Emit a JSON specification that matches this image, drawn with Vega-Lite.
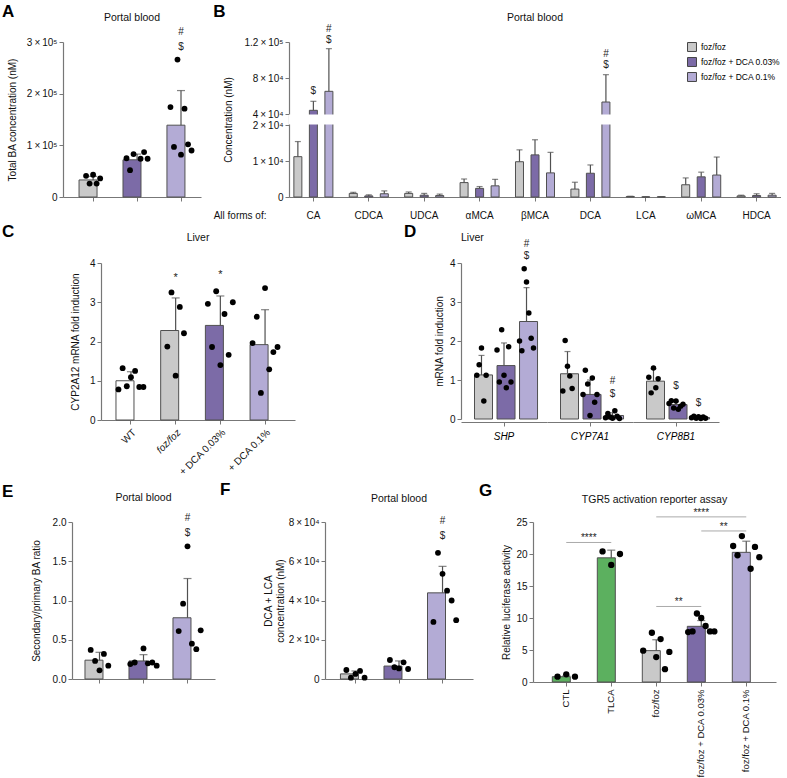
{
"$schema": "https://vega.github.io/schema/vega-lite/v6.json",
"padding": {"left": 2, "top": 3, "right": 0, "bottom": 0},
"background": "white",
"config": {
  "font": "Liberation Sans",
  "view": {"stroke": null},
  "axis": {"grid": false, "domainColor": "#777777", "tickColor": "#777777", "domainWidth": 1.2, "tickSize": 4, "labelFontSize": 10, "labelColor": "#111111", "titleFontSize": 10, "titleFontWeight": "normal", "titleColor": "#111111", "labelPadding": 2, "labelOverlap": false},
  "axisY": {"labelOverlap": false, "labelFlush": false},
  "title": {"fontSize": 10.5, "fontWeight": "normal", "color": "#111111", "frame": "group"},
  "header": {"labelFontSize": 10}
},
"datasets": {
  "A_bar": [
    {"group": "foz/foz", "mean": 33000, "hi": 40000},
    {"group": "foz/foz + DCA 0.03%", "mean": 72000, "hi": 83000},
    {"group": "foz/foz + DCA 0.1%", "mean": 139000, "hi": 206000}],
  "A_dot": [
    {"group": "foz/foz", "rep": 2, "value": 41000}, {"group": "foz/foz", "rep": 3, "value": 26000}, {"group": "foz/foz", "rep": 4, "value": 43000}, {"group": "foz/foz", "rep": 5, "value": 26000}, {"group": "foz/foz", "rep": 6, "value": 36000},
    {"group": "foz/foz + DCA 0.03%", "rep": 1, "value": 75000}, {"group": "foz/foz + DCA 0.03%", "rep": 2, "value": 52000}, {"group": "foz/foz + DCA 0.03%", "rep": 3, "value": 83000}, {"group": "foz/foz + DCA 0.03%", "rep": 5, "value": 74000}, {"group": "foz/foz + DCA 0.03%", "rep": 6, "value": 87000}, {"group": "foz/foz + DCA 0.03%", "rep": 7, "value": 74000},
    {"group": "foz/foz + DCA 0.1%", "rep": 1, "value": 174000}, {"group": "foz/foz + DCA 0.1%", "rep": 2, "value": 97000}, {"group": "foz/foz + DCA 0.1%", "rep": 3, "value": 266000}, {"group": "foz/foz + DCA 0.1%", "rep": 4, "value": 82000}, {"group": "foz/foz + DCA 0.1%", "rep": 5, "value": 171000}, {"group": "foz/foz + DCA 0.1%", "rep": 6, "value": 102000}, {"group": "foz/foz + DCA 0.1%", "rep": 7, "value": 90000}],
  "A_sig": [
    {"group": "foz/foz + DCA 0.1%", "label": "$", "y": 290000},
    {"group": "foz/foz + DCA 0.1%", "label": "#", "y": 320000}],
  "B_bar": [
    {"acid": "CA", "group": "foz/foz", "mean": 11200, "hi": 15400},
    {"acid": "CA", "group": "foz/foz + DCA 0.03%", "mean": 44100, "hi": 54100},
    {"acid": "CA", "group": "foz/foz + DCA 0.1%", "mean": 65200, "hi": 112600},
    {"acid": "CDCA", "group": "foz/foz", "mean": 1000, "hi": 1300},
    {"acid": "CDCA", "group": "foz/foz + DCA 0.03%", "mean": 300, "hi": 600},
    {"acid": "CDCA", "group": "foz/foz + DCA 0.1%", "mean": 900, "hi": 1700},
    {"acid": "UDCA", "group": "foz/foz", "mean": 1000, "hi": 1400},
    {"acid": "UDCA", "group": "foz/foz + DCA 0.03%", "mean": 500, "hi": 1000},
    {"acid": "UDCA", "group": "foz/foz + DCA 0.1%", "mean": 400, "hi": 800},
    {"acid": "αMCA", "group": "foz/foz", "mean": 4000, "hi": 5000},
    {"acid": "αMCA", "group": "foz/foz + DCA 0.03%", "mean": 2400, "hi": 2900},
    {"acid": "αMCA", "group": "foz/foz + DCA 0.1%", "mean": 3100, "hi": 4900},
    {"acid": "βMCA", "group": "foz/foz", "mean": 9800, "hi": 13100},
    {"acid": "βMCA", "group": "foz/foz + DCA 0.03%", "mean": 11700, "hi": 15900},
    {"acid": "βMCA", "group": "foz/foz + DCA 0.1%", "mean": 6700, "hi": 12400},
    {"acid": "DCA", "group": "foz/foz", "mean": 2200, "hi": 4100},
    {"acid": "DCA", "group": "foz/foz + DCA 0.03%", "mean": 6600, "hi": 8900},
    {"acid": "DCA", "group": "foz/foz + DCA 0.1%", "mean": 53300, "hi": 83700},
    {"acid": "LCA", "group": "foz/foz", "mean": 150, "hi": 200},
    {"acid": "LCA", "group": "foz/foz + DCA 0.03%", "mean": 30, "hi": 50},
    {"acid": "LCA", "group": "foz/foz + DCA 0.1%", "mean": 60, "hi": 90},
    {"acid": "ωMCA", "group": "foz/foz", "mean": 3400, "hi": 5300},
    {"acid": "ωMCA", "group": "foz/foz + DCA 0.03%", "mean": 5600, "hi": 6900},
    {"acid": "ωMCA", "group": "foz/foz + DCA 0.1%", "mean": 6100, "hi": 11100},
    {"acid": "HDCA", "group": "foz/foz", "mean": 300, "hi": 500},
    {"acid": "HDCA", "group": "foz/foz + DCA 0.03%", "mean": 400, "hi": 900},
    {"acid": "HDCA", "group": "foz/foz + DCA 0.1%", "mean": 500, "hi": 1000}],
  "B_sig": [
    {"acid": "CA", "group": "foz/foz + DCA 0.03%", "label": "$", "y": 65200},
    {"acid": "CA", "group": "foz/foz + DCA 0.1%", "label": "$", "y": 122000},
    {"acid": "CA", "group": "foz/foz + DCA 0.1%", "label": "#", "y": 135000},
    {"acid": "DCA", "group": "foz/foz + DCA 0.1%", "label": "$", "y": 94100},
    {"acid": "DCA", "group": "foz/foz + DCA 0.1%", "label": "#", "y": 107000}],
  "C_bar": [
    {"group": "WT", "mean": 1.0, "hi": 1.23},
    {"group": "foz/foz", "mean": 2.28, "hi": 3.11},
    {"group": "+ DCA 0.03%", "mean": 2.41, "hi": 3.16},
    {"group": "+ DCA 0.1%", "mean": 1.92, "hi": 2.81}],
  "C_dot": [
    {"group": "WT", "rep": 1, "value": 0.78}, {"group": "WT", "rep": 2, "value": 1.32}, {"group": "WT", "rep": 3, "value": 0.86}, {"group": "WT", "rep": 4, "value": 1.09}, {"group": "WT", "rep": 5, "value": 1.25}, {"group": "WT", "rep": 6, "value": 0.84}, {"group": "WT", "rep": 7, "value": 0.84},
    {"group": "foz/foz", "rep": 2, "value": 1.87}, {"group": "foz/foz", "rep": 3, "value": 3.25}, {"group": "foz/foz", "rep": 4, "value": 1.13}, {"group": "foz/foz", "rep": 5, "value": 2.88}, {"group": "foz/foz", "rep": 6, "value": 2.21},
    {"group": "+ DCA 0.03%", "rep": 1, "value": 2.96}, {"group": "+ DCA 0.03%", "rep": 2, "value": 1.86}, {"group": "+ DCA 0.03%", "rep": 3, "value": 3.28}, {"group": "+ DCA 0.03%", "rep": 4, "value": 1.40}, {"group": "+ DCA 0.03%", "rep": 5, "value": 2.70}, {"group": "+ DCA 0.03%", "rep": 6, "value": 1.66}, {"group": "+ DCA 0.03%", "rep": 7, "value": 3.0},
    {"group": "+ DCA 0.1%", "rep": 1, "value": 1.96}, {"group": "+ DCA 0.1%", "rep": 2, "value": 2.63}, {"group": "+ DCA 0.1%", "rep": 3, "value": 0.69}, {"group": "+ DCA 0.1%", "rep": 4, "value": 3.36}, {"group": "+ DCA 0.1%", "rep": 5, "value": 1.29}, {"group": "+ DCA 0.1%", "rep": 6, "value": 1.73}, {"group": "+ DCA 0.1%", "rep": 7, "value": 1.86}],
  "C_sig": [
    {"group": "foz/foz", "label": "*", "y": 3.62},
    {"group": "+ DCA 0.03%", "label": "*", "y": 3.69}],
  "D_all": [
    {"gene": "SHP", "group": "foz/foz", "kind": "bar", "mean": 1.13, "hi": 1.63},
    {"gene": "SHP", "group": "foz/foz + DCA 0.03%", "kind": "bar", "mean": 1.37, "hi": 1.95},
    {"gene": "SHP", "group": "foz/foz + DCA 0.1%", "kind": "bar", "mean": 2.50, "hi": 3.37},
    {"gene": "CYP7A1", "group": "foz/foz", "kind": "bar", "mean": 1.16, "hi": 1.73},
    {"gene": "CYP7A1", "group": "foz/foz + DCA 0.03%", "kind": "bar", "mean": 0.63, "hi": 1.0},
    {"gene": "CYP7A1", "group": "foz/foz + DCA 0.1%", "kind": "bar", "mean": 0.09, "hi": 0.16},
    {"gene": "CYP8B1", "group": "foz/foz", "kind": "bar", "mean": 0.97, "hi": 1.29},
    {"gene": "CYP8B1", "group": "foz/foz + DCA 0.03%", "kind": "bar", "mean": 0.37, "hi": 0.45},
    {"gene": "CYP8B1", "group": "foz/foz + DCA 0.1%", "kind": "bar", "mean": 0.04, "hi": 0.06},
    {"gene": "SHP", "group": "foz/foz", "kind": "dot", "rep": 2, "value": 1.12}, {"gene": "SHP", "group": "foz/foz", "kind": "dot", "rep": 3, "value": 1.39}, {"gene": "SHP", "group": "foz/foz", "kind": "dot", "rep": 4, "value": 1.82}, {"gene": "SHP", "group": "foz/foz", "kind": "dot", "rep": 5, "value": 0.46}, {"gene": "SHP", "group": "foz/foz", "kind": "dot", "rep": 6, "value": 1.12},
    {"gene": "SHP", "group": "foz/foz + DCA 0.03%", "kind": "dot", "rep": 1, "value": 1.77}, {"gene": "SHP", "group": "foz/foz + DCA 0.03%", "kind": "dot", "rep": 2, "value": 0.95}, {"gene": "SHP", "group": "foz/foz + DCA 0.03%", "kind": "dot", "rep": 3, "value": 2.29}, {"gene": "SHP", "group": "foz/foz + DCA 0.03%", "kind": "dot", "rep": 4, "value": 1.12}, {"gene": "SHP", "group": "foz/foz + DCA 0.03%", "kind": "dot", "rep": 5, "value": 0.80}, {"gene": "SHP", "group": "foz/foz + DCA 0.03%", "kind": "dot", "rep": 6, "value": 1.85}, {"gene": "SHP", "group": "foz/foz + DCA 0.03%", "kind": "dot", "rep": 7, "value": 0.95},
    {"gene": "SHP", "group": "foz/foz + DCA 0.1%", "kind": "dot", "rep": 1, "value": 2.0}, {"gene": "SHP", "group": "foz/foz + DCA 0.1%", "kind": "dot", "rep": 2, "value": 1.75}, {"gene": "SHP", "group": "foz/foz + DCA 0.1%", "kind": "dot", "rep": 3, "value": 3.85}, {"gene": "SHP", "group": "foz/foz + DCA 0.1%", "kind": "dot", "rep": 4, "value": 3.51}, {"gene": "SHP", "group": "foz/foz + DCA 0.1%", "kind": "dot", "rep": 5, "value": 2.72}, {"gene": "SHP", "group": "foz/foz + DCA 0.1%", "kind": "dot", "rep": 6, "value": 2.07}, {"gene": "SHP", "group": "foz/foz + DCA 0.1%", "kind": "dot", "rep": 7, "value": 1.82},
    {"gene": "CYP7A1", "group": "foz/foz", "kind": "dot", "rep": 2, "value": 0.72}, {"gene": "CYP7A1", "group": "foz/foz", "kind": "dot", "rep": 3, "value": 2.01}, {"gene": "CYP7A1", "group": "foz/foz", "kind": "dot", "rep": 4, "value": 1.35}, {"gene": "CYP7A1", "group": "foz/foz", "kind": "dot", "rep": 5, "value": 1.10}, {"gene": "CYP7A1", "group": "foz/foz", "kind": "dot", "rep": 6, "value": 0.78},
    {"gene": "CYP7A1", "group": "foz/foz + DCA 0.03%", "kind": "dot", "rep": 1, "value": 0.63}, {"gene": "CYP7A1", "group": "foz/foz + DCA 0.03%", "kind": "dot", "rep": 2, "value": 1.25}, {"gene": "CYP7A1", "group": "foz/foz + DCA 0.03%", "kind": "dot", "rep": 3, "value": 0.90}, {"gene": "CYP7A1", "group": "foz/foz + DCA 0.03%", "kind": "dot", "rep": 4, "value": 0.09}, {"gene": "CYP7A1", "group": "foz/foz + DCA 0.03%", "kind": "dot", "rep": 5, "value": 1.05}, {"gene": "CYP7A1", "group": "foz/foz + DCA 0.03%", "kind": "dot", "rep": 6, "value": 0.43}, {"gene": "CYP7A1", "group": "foz/foz + DCA 0.03%", "kind": "dot", "rep": 7, "value": 0.63},
    {"gene": "CYP7A1", "group": "foz/foz + DCA 0.1%", "kind": "dot", "rep": 1, "value": 0.03}, {"gene": "CYP7A1", "group": "foz/foz + DCA 0.1%", "kind": "dot", "rep": 2, "value": 0.14}, {"gene": "CYP7A1", "group": "foz/foz + DCA 0.1%", "kind": "dot", "rep": 3, "value": 0.05}, {"gene": "CYP7A1", "group": "foz/foz + DCA 0.1%", "kind": "dot", "rep": 4, "value": 0.02}, {"gene": "CYP7A1", "group": "foz/foz + DCA 0.1%", "kind": "dot", "rep": 5, "value": 0.21}, {"gene": "CYP7A1", "group": "foz/foz + DCA 0.1%", "kind": "dot", "rep": 6, "value": 0.07}, {"gene": "CYP7A1", "group": "foz/foz + DCA 0.1%", "kind": "dot", "rep": 7, "value": 0.01},
    {"gene": "CYP8B1", "group": "foz/foz", "kind": "dot", "rep": 2, "value": 1.07}, {"gene": "CYP8B1", "group": "foz/foz", "kind": "dot", "rep": 3, "value": 0.67}, {"gene": "CYP8B1", "group": "foz/foz", "kind": "dot", "rep": 4, "value": 1.31}, {"gene": "CYP8B1", "group": "foz/foz", "kind": "dot", "rep": 5, "value": 0.80}, {"gene": "CYP8B1", "group": "foz/foz", "kind": "dot", "rep": 6, "value": 1.03},
    {"gene": "CYP8B1", "group": "foz/foz + DCA 0.03%", "kind": "dot", "rep": 1, "value": 0.40}, {"gene": "CYP8B1", "group": "foz/foz + DCA 0.03%", "kind": "dot", "rep": 2, "value": 0.47}, {"gene": "CYP8B1", "group": "foz/foz + DCA 0.03%", "kind": "dot", "rep": 3, "value": 0.28}, {"gene": "CYP8B1", "group": "foz/foz + DCA 0.03%", "kind": "dot", "rep": 4, "value": 0.46}, {"gene": "CYP8B1", "group": "foz/foz + DCA 0.03%", "kind": "dot", "rep": 5, "value": 0.25}, {"gene": "CYP8B1", "group": "foz/foz + DCA 0.03%", "kind": "dot", "rep": 6, "value": 0.33}, {"gene": "CYP8B1", "group": "foz/foz + DCA 0.03%", "kind": "dot", "rep": 7, "value": 0.38},
    {"gene": "CYP8B1", "group": "foz/foz + DCA 0.1%", "kind": "dot", "rep": 1, "value": 0.03}, {"gene": "CYP8B1", "group": "foz/foz + DCA 0.1%", "kind": "dot", "rep": 2, "value": 0.07}, {"gene": "CYP8B1", "group": "foz/foz + DCA 0.1%", "kind": "dot", "rep": 3, "value": 0.02}, {"gene": "CYP8B1", "group": "foz/foz + DCA 0.1%", "kind": "dot", "rep": 4, "value": 0.06}, {"gene": "CYP8B1", "group": "foz/foz + DCA 0.1%", "kind": "dot", "rep": 5, "value": 0.01}, {"gene": "CYP8B1", "group": "foz/foz + DCA 0.1%", "kind": "dot", "rep": 6, "value": 0.05}, {"gene": "CYP8B1", "group": "foz/foz + DCA 0.1%", "kind": "dot", "rep": 7, "value": 0.02},
    {"gene": "SHP", "group": "foz/foz + DCA 0.1%", "kind": "sig", "label": "$", "y": 4.17},
    {"gene": "SHP", "group": "foz/foz + DCA 0.1%", "kind": "sig", "label": "#", "y": 4.49},
    {"gene": "CYP7A1", "group": "foz/foz + DCA 0.1%", "kind": "sig", "label": "$", "y": 0.63},
    {"gene": "CYP7A1", "group": "foz/foz + DCA 0.1%", "kind": "sig", "label": "#", "y": 0.97},
    {"gene": "CYP8B1", "group": "foz/foz + DCA 0.03%", "kind": "sig", "label": "$", "y": 0.84},
    {"gene": "CYP8B1", "group": "foz/foz + DCA 0.1%", "kind": "sig", "label": "$", "y": 0.41}],
  "E_bar": [
    {"group": "foz/foz", "mean": 0.24, "hi": 0.34},
    {"group": "foz/foz + DCA 0.03%", "mean": 0.23, "hi": 0.31},
    {"group": "foz/foz + DCA 0.1%", "mean": 0.78, "hi": 1.28}],
  "E_dot": [
    {"group": "foz/foz", "rep": 2, "value": 0.37}, {"group": "foz/foz", "rep": 3, "value": 0.23}, {"group": "foz/foz", "rep": 4, "value": 0.11}, {"group": "foz/foz", "rep": 5, "value": 0.32}, {"group": "foz/foz", "rep": 6, "value": 0.17},
    {"group": "foz/foz + DCA 0.03%", "rep": 1, "value": 0.19}, {"group": "foz/foz + DCA 0.03%", "rep": 2, "value": 0.21}, {"group": "foz/foz + DCA 0.03%", "rep": 4, "value": 0.39}, {"group": "foz/foz + DCA 0.03%", "rep": 5, "value": 0.20}, {"group": "foz/foz + DCA 0.03%", "rep": 6, "value": 0.21}, {"group": "foz/foz + DCA 0.03%", "rep": 7, "value": 0.17},
    {"group": "foz/foz + DCA 0.1%", "rep": 2, "value": 0.61}, {"group": "foz/foz + DCA 0.1%", "rep": 3, "value": 0.96}, {"group": "foz/foz + DCA 0.1%", "rep": 4, "value": 1.69}, {"group": "foz/foz + DCA 0.1%", "rep": 5, "value": 0.45}, {"group": "foz/foz + DCA 0.1%", "rep": 6, "value": 0.38}, {"group": "foz/foz + DCA 0.1%", "rep": 7, "value": 0.62}],
  "E_sig": [
    {"group": "foz/foz + DCA 0.1%", "label": "$", "y": 1.86},
    {"group": "foz/foz + DCA 0.1%", "label": "#", "y": 2.05}],
  "F_bar": [
    {"group": "foz/foz", "mean": 2600, "hi": 4100},
    {"group": "foz/foz + DCA 0.03%", "mean": 6600, "hi": 9200},
    {"group": "foz/foz + DCA 0.1%", "mean": 43900, "hi": 57400}],
  "F_dot": [
    {"group": "foz/foz", "rep": 2, "value": 4600}, {"group": "foz/foz", "rep": 3, "value": 700}, {"group": "foz/foz", "rep": 4, "value": 2600}, {"group": "foz/foz", "rep": 5, "value": 4100}, {"group": "foz/foz", "rep": 6, "value": 700},
    {"group": "foz/foz + DCA 0.03%", "rep": 2, "value": 9700}, {"group": "foz/foz + DCA 0.03%", "rep": 3, "value": 6000}, {"group": "foz/foz + DCA 0.03%", "rep": 4, "value": 5400}, {"group": "foz/foz + DCA 0.03%", "rep": 5, "value": 8500}, {"group": "foz/foz + DCA 0.03%", "rep": 6, "value": 5100},
    {"group": "foz/foz + DCA 0.1%", "rep": 2, "value": 29100}, {"group": "foz/foz + DCA 0.1%", "rep": 3, "value": 64300}, {"group": "foz/foz + DCA 0.1%", "rep": 4, "value": 53600}, {"group": "foz/foz + DCA 0.1%", "rep": 5, "value": 45000}, {"group": "foz/foz + DCA 0.1%", "rep": 6, "value": 40000}, {"group": "foz/foz + DCA 0.1%", "rep": 7, "value": 30000}],
  "F_sig": [
    {"group": "foz/foz + DCA 0.1%", "label": "$", "y": 72700},
    {"group": "foz/foz + DCA 0.1%", "label": "#", "y": 80300}],
  "G_bar": [
    {"group": "CTL", "mean": 0.83, "hi": 0.95},
    {"group": "TLCA", "mean": 19.4, "hi": 20.6},
    {"group": "foz/foz", "mean": 4.9, "hi": 6.6},
    {"group": "foz/foz + DCA 0.03%", "mean": 8.7, "hi": 9.6},
    {"group": "foz/foz + DCA 0.1%", "mean": 20.26, "hi": 22.0}],
  "G_dot": [
    {"group": "CTL", "rep": 2, "value": 0.83}, {"group": "CTL", "rep": 4, "value": 1.2}, {"group": "CTL", "rep": 6, "value": 0.83},
    {"group": "TLCA", "rep": 2, "value": 20.4}, {"group": "TLCA", "rep": 4, "value": 18.3}, {"group": "TLCA", "rep": 6, "value": 20.0},
    {"group": "foz/foz", "rep": 1, "value": 4.9}, {"group": "foz/foz", "rep": 3, "value": 7.7}, {"group": "foz/foz", "rep": 4, "value": 3.9}, {"group": "foz/foz", "rep": 5, "value": 6.7}, {"group": "foz/foz", "rep": 6, "value": 2.0}, {"group": "foz/foz", "rep": 7, "value": 4.7},
    {"group": "foz/foz + DCA 0.03%", "rep": 1, "value": 7.8}, {"group": "foz/foz + DCA 0.03%", "rep": 2, "value": 7.9}, {"group": "foz/foz + DCA 0.03%", "rep": 3, "value": 10.7}, {"group": "foz/foz + DCA 0.03%", "rep": 4, "value": 10.0}, {"group": "foz/foz + DCA 0.03%", "rep": 5, "value": 8.75}, {"group": "foz/foz + DCA 0.03%", "rep": 6, "value": 7.9}, {"group": "foz/foz + DCA 0.03%", "rep": 7, "value": 7.9},
    {"group": "foz/foz + DCA 0.1%", "rep": 1, "value": 21.25}, {"group": "foz/foz + DCA 0.1%", "rep": 2, "value": 19.8}, {"group": "foz/foz + DCA 0.1%", "rep": 3, "value": 22.8}, {"group": "foz/foz + DCA 0.1%", "rep": 5, "value": 17.7}, {"group": "foz/foz + DCA 0.1%", "rep": 6, "value": 21.1}, {"group": "foz/foz + DCA 0.1%", "rep": 7, "value": 19.5}],
  "G_cmp": [
    {"g1": "CTL", "g2": "TLCA", "y": 21.8, "label": "****"},
    {"g1": "foz/foz", "g2": "foz/foz + DCA 0.03%", "y": 11.8, "label": "**"},
    {"g1": "foz/foz", "g2": "foz/foz + DCA 0.1%", "y": 25.8, "label": "****"},
    {"g1": "foz/foz + DCA 0.03%", "g2": "foz/foz + DCA 0.1%", "y": 23.6, "label": "**"}]
},
"resolve": {"scale": {"color": "independent", "xOffset": "independent"}, "legend": {"color": "independent"}},
"columns": 1,
"align": "none",
"spacing": 2,
"concat": [
 {
  "resolve": {"scale": {"color": "independent", "xOffset": "independent"}, "legend": {"color": "independent"}},
  "spacing": 12,
  "hconcat": [
   {
    "title": {"text": "A", "fontSize": 17, "fontWeight": "bold", "anchor": "start", "frame": "bounds", "offset": -8, "dx": 0, "color": "black"},
    "resolve": {"scale": {"color": "independent", "xOffset": "independent"}, "legend": {"color": "independent"}},
    "spacing": 0,
    "hconcat": [
     {"width": 5, "height": 155, "data": {"values": []}, "mark": {"type": "point", "opacity": 0}},
     {
      "title": {"text": "Portal blood", "offset": 3},
      "width": 138, "height": 155,
      "layer": [
       {"data": {"name": "A_bar"}, "mark": {"type": "bar", "stroke": "#505050", "strokeWidth": 1},
        "encoding": {
         "x": {"field": "group", "type": "nominal", "scale": {"domain": ["foz/foz", "foz/foz + DCA 0.03%", "foz/foz + DCA 0.1%"], "paddingInner": 0.36, "paddingOuter": 0.25, "align": 0.73}, "axis": {"labels": false, "title": null}},
         "y": {"field": "mean", "type": "quantitative", "scale": {"domain": [0, 300000], "nice": false}, "axis": {"values": [0, 100000, 200000, 300000], "tickCount": 12, "labelOverlap": false, "labelExpr": "datum.value == 0 ? '0' : (datum.value / 100000) + '\u2009×\u200910⁵'", "title": "Total BA concentration (nM)", "titlePadding": 12, "minExtent": 34, "maxExtent": 34}},
         "color": {"field": "group", "type": "nominal", "scale": {"domain": ["foz/foz", "foz/foz + DCA 0.03%", "foz/foz + DCA 0.1%"], "range": ["#c9c9c9", "#7c6ba7", "#b3abd5"]}, "legend": null}}},
       {"data": {"name": "A_bar"}, "mark": {"type": "rule", "color": "#505050", "strokeWidth": 1.2},
        "encoding": {
         "x": {"field": "group", "type": "nominal", "scale": {"domain": ["foz/foz", "foz/foz + DCA 0.03%", "foz/foz + DCA 0.1%"]}},
         "y": {"field": "mean", "type": "quantitative", "scale": {"domain": [0, 300000], "nice": false}}, "y2": {"field": "hi"}}},
       {"data": {"name": "A_bar"}, "mark": {"type": "tick", "color": "#505050", "size": 8, "thickness": 1.2},
        "encoding": {
         "x": {"field": "group", "type": "nominal", "scale": {"domain": ["foz/foz", "foz/foz + DCA 0.03%", "foz/foz + DCA 0.1%"]}},
         "y": {"field": "hi", "type": "quantitative", "scale": {"domain": [0, 300000], "nice": false}}}},
       {"data": {"name": "A_dot"}, "mark": {"type": "circle", "color": "black", "size": 34, "opacity": 1},
        "encoding": {
         "x": {"field": "group", "type": "nominal", "scale": {"domain": ["foz/foz", "foz/foz + DCA 0.03%", "foz/foz + DCA 0.1%"]}},
         "xOffset": {"field": "rep", "type": "ordinal", "scale": {"domain": [1, 2, 3, 4, 5, 6, 7], "paddingOuter": 1.2}},
         "y": {"field": "value", "type": "quantitative", "scale": {"domain": [0, 300000], "nice": false}}}},
       {"data": {"name": "A_sig"}, "mark": {"type": "text", "fontSize": 10, "color": "#222222"},
        "encoding": {
         "x": {"field": "group", "type": "nominal", "scale": {"domain": ["foz/foz", "foz/foz + DCA 0.03%", "foz/foz + DCA 0.1%"]}},
         "y": {"field": "y", "type": "quantitative", "scale": {"domain": [0, 300000], "nice": false}},
         "text": {"field": "label"}}}
      ]
     }
    ]
   },
   {
    "title": {"text": "B", "fontSize": 17, "fontWeight": "bold", "anchor": "start", "frame": "bounds", "offset": -8, "dx": 0, "color": "black"},
    "resolve": {"scale": {"color": "independent", "xOffset": "independent"}, "legend": {"color": "independent"}},
    "vconcat": [
     {
      "title": {"text": "Portal blood", "offset": 0},
      "width": 492, "height": 155,
      "layer": [
       {"data": {"name": "B_bar"}, "mark": {"type": "bar", "stroke": "#505050", "strokeWidth": 1, "size": 8},
        "encoding": {
         "x": {"field": "acid", "type": "nominal", "scale": {"domain": ["CA", "CDCA", "UDCA", "αMCA", "βMCA", "DCA", "LCA", "ωMCA", "HDCA"], "paddingInner": 0.16, "paddingOuter": 0.02}, "axis": {"title": "All forms of:", "labelAngle": 0, "labelPadding": 9, "titleX": -23, "titleY": 13, "titleAlign": "right", "titleBaseline": "top", "titleAngle": 0, "titleAnchor": null}},
         "xOffset": {"field": "group", "type": "nominal", "scale": {"domain": ["foz/foz", "foz/foz + DCA 0.03%", "foz/foz + DCA 0.1%"], "paddingInner": 0, "paddingOuter": 0}},
         "y": {"field": "mean", "type": "quantitative", "scale": {"domain": [0, 20000, 40000, 120000], "range": [155, 83, 72, 0], "nice": false, "zero": false}, "axis": {"values": [0, 10000, 20000, 40000, 80000, 120000], "tickCount": 12, "labelOverlap": false, "labelExpr": "datum.value == 0 ? '0' : datum.value >= 100000 ? '1.2\u2009×\u200910⁵' : (datum.value / 10000) + '\u2009×\u200910⁴'", "title": "Concentration (nM)", "titlePadding": 10, "minExtent": 46, "maxExtent": 46}},
         "color": {"field": "group", "type": "nominal", "scale": {"domain": ["foz/foz", "foz/foz + DCA 0.03%", "foz/foz + DCA 0.1%"], "range": ["#c9c9c9", "#7c6ba7", "#b3abd5"]}, "legend": {"title": null, "orient": "top-right", "offset": 0, "symbolType": "square", "symbolSize": 80, "symbolStrokeColor": "#444444", "symbolStrokeWidth": 1, "labelFontSize": 8.5, "rowPadding": 1}}}},
       {"data": {"name": "B_bar"}, "mark": {"type": "rule", "color": "#505050", "strokeWidth": 1.2},
        "encoding": {
         "x": {"field": "acid", "type": "nominal", "scale": {"domain": ["CA", "CDCA", "UDCA", "αMCA", "βMCA", "DCA", "LCA", "ωMCA", "HDCA"]}},
         "xOffset": {"field": "group", "type": "nominal", "scale": {"domain": ["foz/foz", "foz/foz + DCA 0.03%", "foz/foz + DCA 0.1%"]}},
         "y": {"field": "mean", "type": "quantitative", "scale": {"domain": [0, 20000, 40000, 120000], "range": [155, 83, 72, 0], "nice": false, "zero": false}}, "y2": {"field": "hi"}}},
       {"data": {"name": "B_bar"}, "mark": {"type": "tick", "color": "#505050", "size": 6, "thickness": 1.2},
        "encoding": {
         "x": {"field": "acid", "type": "nominal", "scale": {"domain": ["CA", "CDCA", "UDCA", "αMCA", "βMCA", "DCA", "LCA", "ωMCA", "HDCA"]}},
         "xOffset": {"field": "group", "type": "nominal", "scale": {"domain": ["foz/foz", "foz/foz + DCA 0.03%", "foz/foz + DCA 0.1%"]}},
         "y": {"field": "hi", "type": "quantitative", "scale": {"domain": [0, 20000, 40000, 120000], "range": [155, 83, 72, 0], "nice": false, "zero": false}}}},
       {"data": {"values": [{"band": "axis break"}]}, "mark": {"type": "rect", "fill": "white", "stroke": null},
        "encoding": {
         "y": {"datum": 20900, "type": "quantitative", "scale": {"domain": [0, 20000, 40000, 120000], "range": [155, 83, 72, 0], "nice": false, "zero": false}},
         "y2": {"datum": 39200}}},
       {"data": {"name": "B_sig"}, "mark": {"type": "text", "fontSize": 10, "color": "#222222"},
        "encoding": {
         "x": {"field": "acid", "type": "nominal", "scale": {"domain": ["CA", "CDCA", "UDCA", "αMCA", "βMCA", "DCA", "LCA", "ωMCA", "HDCA"]}},
         "xOffset": {"field": "group", "type": "nominal", "scale": {"domain": ["foz/foz", "foz/foz + DCA 0.03%", "foz/foz + DCA 0.1%"]}},
         "y": {"field": "y", "type": "quantitative", "scale": {"domain": [0, 20000, 40000, 120000], "range": [155, 83, 72, 0], "nice": false, "zero": false}},
         "text": {"field": "label"}}}
      ]
     }
    ]
   }
  ]
 },
 {
  "resolve": {"scale": {"color": "independent", "xOffset": "independent"}, "legend": {"color": "independent"}},
  "spacing": 109,
  "hconcat": [
   {
    "title": {"text": "C", "fontSize": 17, "fontWeight": "bold", "anchor": "start", "frame": "bounds", "offset": -8, "dx": 0, "color": "black"},
    "resolve": {"scale": {"color": "independent", "xOffset": "independent"}, "legend": {"color": "independent"}},
    "spacing": 0,
    "hconcat": [
     {"width": 68, "height": 157, "data": {"values": []}, "mark": {"type": "point", "opacity": 0}},
     {
      "title": {"text": "Liver", "offset": 15},
      "width": 194, "height": 157,
      "layer": [
       {"data": {"name": "C_bar"}, "mark": {"type": "bar", "stroke": "#505050", "strokeWidth": 1},
        "encoding": {
         "x": {"field": "group", "type": "nominal", "scale": {"domain": ["WT", "foz/foz", "+ DCA 0.03%", "+ DCA 0.1%"], "paddingInner": 0.33, "paddingOuter": 0.335}, "axis": {"title": null, "labelAngle": -45, "labelPadding": 3, "labelFontStyle": {"condition": {"test": "datum.value === 'foz/foz'", "value": "italic"}, "value": "normal"}}},
         "y": {"field": "mean", "type": "quantitative", "scale": {"domain": [0, 4], "nice": false}, "axis": {"values": [0, 1, 2, 3, 4], "format": "d", "tickCount": 12, "labelOverlap": false, "title": "CYP2A12 mRNA fold induction", "titlePadding": 7, "minExtent": 14, "maxExtent": 14}},
         "color": {"field": "group", "type": "nominal", "scale": {"domain": ["WT", "foz/foz", "+ DCA 0.03%", "+ DCA 0.1%"], "range": ["#ffffff", "#c9c9c9", "#7c6ba7", "#b3abd5"]}, "legend": null}}},
       {"data": {"name": "C_bar"}, "mark": {"type": "rule", "color": "#505050", "strokeWidth": 1.2},
        "encoding": {
         "x": {"field": "group", "type": "nominal", "scale": {"domain": ["WT", "foz/foz", "+ DCA 0.03%", "+ DCA 0.1%"]}},
         "y": {"field": "mean", "type": "quantitative", "scale": {"domain": [0, 4], "nice": false}}, "y2": {"field": "hi"}}},
       {"data": {"name": "C_bar"}, "mark": {"type": "tick", "color": "#505050", "size": 8, "thickness": 1.2},
        "encoding": {
         "x": {"field": "group", "type": "nominal", "scale": {"domain": ["WT", "foz/foz", "+ DCA 0.03%", "+ DCA 0.1%"]}},
         "y": {"field": "hi", "type": "quantitative", "scale": {"domain": [0, 4], "nice": false}}}},
       {"data": {"name": "C_dot"}, "mark": {"type": "circle", "color": "black", "size": 34, "opacity": 1},
        "encoding": {
         "x": {"field": "group", "type": "nominal", "scale": {"domain": ["WT", "foz/foz", "+ DCA 0.03%", "+ DCA 0.1%"]}},
         "xOffset": {"field": "rep", "type": "ordinal", "scale": {"domain": [1, 2, 3, 4, 5, 6, 7], "paddingOuter": 0.6}},
         "y": {"field": "value", "type": "quantitative", "scale": {"domain": [0, 4], "nice": false}}}},
       {"data": {"name": "C_sig"}, "mark": {"type": "text", "fontSize": 11, "color": "#222222"},
        "encoding": {
         "x": {"field": "group", "type": "nominal", "scale": {"domain": ["WT", "foz/foz", "+ DCA 0.03%", "+ DCA 0.1%"]}},
         "y": {"field": "y", "type": "quantitative", "scale": {"domain": [0, 4], "nice": false}},
         "text": {"field": "label"}}}
      ]
     }
    ]
   },
   {
    "title": {"text": "D", "fontSize": 17, "fontWeight": "bold", "anchor": "start", "frame": "bounds", "offset": -8, "dx": -30, "color": "black"},
    "resolve": {"scale": {"color": "independent", "xOffset": "independent"}, "legend": {"color": "independent"}},
    "vconcat": [
     {
      "data": {"name": "D_all"},
      "title": {"text": "Liver", "offset": -5},
      "facet": {"column": {"field": "gene", "type": "nominal", "sort": ["SHP", "CYP7A1", "CYP8B1"], "header": {"title": null, "labelOrient": "bottom", "labelFontStyle": "italic", "labelFontSize": 10, "labelPadding": 5}}},
      "spacing": 0,
      "spec": {
       "width": 86, "height": 156,
       "layer": [
        {"transform": [{"filter": "datum.kind === 'bar'"}], "mark": {"type": "bar", "stroke": "#505050", "strokeWidth": 1},
         "encoding": {
          "x": {"field": "group", "type": "nominal", "scale": {"domain": ["foz/foz", "foz/foz + DCA 0.03%", "foz/foz + DCA 0.1%"], "paddingInner": 0.38, "paddingOuter": 0.6}, "axis": {"labels": false, "title": null, "tickOpacity": {"condition": {"test": "datum.value === 'foz/foz + DCA 0.03%'", "value": 1}, "value": 0}}},
          "y": {"field": "mean", "type": "quantitative", "scale": {"domain": [0, 4], "nice": false}, "axis": {"values": [0, 1, 2, 3, 4], "format": "d", "tickCount": 12, "labelOverlap": false, "title": "mRNA fold induction", "titlePadding": 3, "minExtent": 14, "maxExtent": 14}},
          "color": {"field": "group", "type": "nominal", "scale": {"domain": ["foz/foz", "foz/foz + DCA 0.03%", "foz/foz + DCA 0.1%"], "range": ["#c9c9c9", "#7c6ba7", "#b3abd5"]}, "legend": null}}},
        {"transform": [{"filter": "datum.kind === 'bar'"}], "mark": {"type": "rule", "color": "#505050", "strokeWidth": 1.2},
         "encoding": {
          "x": {"field": "group", "type": "nominal", "scale": {"domain": ["foz/foz", "foz/foz + DCA 0.03%", "foz/foz + DCA 0.1%"]}},
          "y": {"field": "mean", "type": "quantitative", "scale": {"domain": [0, 4], "nice": false}}, "y2": {"field": "hi"}}},
        {"transform": [{"filter": "datum.kind === 'bar'"}], "mark": {"type": "tick", "color": "#505050", "size": 6, "thickness": 1.2},
         "encoding": {
          "x": {"field": "group", "type": "nominal", "scale": {"domain": ["foz/foz", "foz/foz + DCA 0.03%", "foz/foz + DCA 0.1%"]}},
          "y": {"field": "hi", "type": "quantitative", "scale": {"domain": [0, 4], "nice": false}}}},
        {"transform": [{"filter": "datum.kind === 'dot'"}], "mark": {"type": "circle", "color": "black", "size": 30, "opacity": 1},
         "encoding": {
          "x": {"field": "group", "type": "nominal", "scale": {"domain": ["foz/foz", "foz/foz + DCA 0.03%", "foz/foz + DCA 0.1%"]}},
          "xOffset": {"field": "rep", "type": "ordinal", "scale": {"domain": [1, 2, 3, 4, 5, 6, 7], "paddingOuter": 0}},
          "y": {"field": "value", "type": "quantitative", "scale": {"domain": [0, 4], "nice": false}}}},
        {"transform": [{"filter": "datum.kind === 'sig'"}], "mark": {"type": "text", "fontSize": 10, "color": "#222222"},
         "encoding": {
          "x": {"field": "group", "type": "nominal", "scale": {"domain": ["foz/foz", "foz/foz + DCA 0.03%", "foz/foz + DCA 0.1%"]}},
          "y": {"field": "y", "type": "quantitative", "scale": {"domain": [0, 4], "nice": false}},
          "text": {"field": "label"}}}
       ]
      }
     }
    ]
   }
  ]
 },
 {
  "resolve": {"scale": {"color": "independent", "xOffset": "independent"}, "legend": {"color": "independent"}},
  "spacing": 5,
  "hconcat": [
   {
    "title": {"text": "E", "fontSize": 17, "fontWeight": "bold", "anchor": "start", "frame": "bounds", "offset": -8, "dx": 0, "color": "black"},
    "resolve": {"scale": {"color": "independent", "xOffset": "independent"}, "legend": {"color": "independent"}},
    "spacing": 0,
    "hconcat": [
     {"width": 29, "height": 157, "data": {"values": []}, "mark": {"type": "point", "opacity": 0}},
     {
      "title": {"text": "Portal blood", "offset": 10},
      "width": 143, "height": 157,
      "layer": [
       {"data": {"name": "E_bar"}, "mark": {"type": "bar", "stroke": "#505050", "strokeWidth": 1},
        "encoding": {
         "x": {"field": "group", "type": "nominal", "scale": {"domain": ["foz/foz", "foz/foz + DCA 0.03%", "foz/foz + DCA 0.1%"], "paddingInner": 0.34, "paddingOuter": 0.295}, "axis": {"labels": false, "title": null}},
         "y": {"field": "mean", "type": "quantitative", "scale": {"domain": [0, 2], "nice": false}, "axis": {"values": [0, 0.5, 1, 1.5, 2], "tickCount": 12, "labelOverlap": false, "format": ".1f", "title": "Secondary/primary BA ratio", "titlePadding": 10, "minExtent": 21, "maxExtent": 21}},
         "color": {"field": "group", "type": "nominal", "scale": {"domain": ["foz/foz", "foz/foz + DCA 0.03%", "foz/foz + DCA 0.1%"], "range": ["#c9c9c9", "#7c6ba7", "#b3abd5"]}, "legend": null}}},
       {"data": {"name": "E_bar"}, "mark": {"type": "rule", "color": "#505050", "strokeWidth": 1.2},
        "encoding": {
         "x": {"field": "group", "type": "nominal", "scale": {"domain": ["foz/foz", "foz/foz + DCA 0.03%", "foz/foz + DCA 0.1%"]}},
         "y": {"field": "mean", "type": "quantitative", "scale": {"domain": [0, 2], "nice": false}}, "y2": {"field": "hi"}}},
       {"data": {"name": "E_bar"}, "mark": {"type": "tick", "color": "#505050", "size": 8, "thickness": 1.2},
        "encoding": {
         "x": {"field": "group", "type": "nominal", "scale": {"domain": ["foz/foz", "foz/foz + DCA 0.03%", "foz/foz + DCA 0.1%"]}},
         "y": {"field": "hi", "type": "quantitative", "scale": {"domain": [0, 2], "nice": false}}}},
       {"data": {"name": "E_dot"}, "mark": {"type": "circle", "color": "black", "size": 34, "opacity": 1},
        "encoding": {
         "x": {"field": "group", "type": "nominal", "scale": {"domain": ["foz/foz", "foz/foz + DCA 0.03%", "foz/foz + DCA 0.1%"]}},
         "xOffset": {"field": "rep", "type": "ordinal", "scale": {"domain": [1, 2, 3, 4, 5, 6, 7], "paddingOuter": 0.3}},
         "y": {"field": "value", "type": "quantitative", "scale": {"domain": [0, 2], "nice": false}}}},
       {"data": {"name": "E_sig"}, "mark": {"type": "text", "fontSize": 10, "color": "#222222"},
        "encoding": {
         "x": {"field": "group", "type": "nominal", "scale": {"domain": ["foz/foz", "foz/foz + DCA 0.03%", "foz/foz + DCA 0.1%"]}},
         "y": {"field": "y", "type": "quantitative", "scale": {"domain": [0, 2], "nice": false}},
         "text": {"field": "label"}}}
      ]
     }
    ]
   },
   {
    "resolve": {"scale": {"color": "independent", "xOffset": "independent"}, "legend": {"color": "independent"}},
    "spacing": 6,
    "hconcat": [
     {
      "title": {"text": "F", "fontSize": 17, "fontWeight": "bold", "anchor": "start", "frame": "bounds", "offset": -5, "dx": -43, "color": "black"},
      "resolve": {"scale": {"color": "independent", "xOffset": "independent"}, "legend": {"color": "independent"}},
      "vconcat": [
       {
        "title": {"text": "Portal blood", "offset": 12},
        "width": 148, "height": 157,
        "layer": [
         {"data": {"name": "F_bar"}, "mark": {"type": "bar", "stroke": "#505050", "strokeWidth": 1},
          "encoding": {
           "x": {"field": "group", "type": "nominal", "scale": {"domain": ["foz/foz", "foz/foz + DCA 0.03%", "foz/foz + DCA 0.1%"], "paddingInner": 0.31, "paddingOuter": 0.355}, "axis": {"labels": false, "title": null}},
           "y": {"field": "mean", "type": "quantitative", "scale": {"domain": [0, 80000], "nice": false}, "axis": {"values": [0, 20000, 40000, 60000, 80000], "tickCount": 12, "labelOverlap": false, "labelExpr": "datum.value == 0 ? '0' : (datum.value / 10000) + '\u2009×\u200910⁴'", "title": ["DCA + LCA", "concentration (nM)"], "titlePadding": 5, "minExtent": 35, "maxExtent": 35}},
           "color": {"field": "group", "type": "nominal", "scale": {"domain": ["foz/foz", "foz/foz + DCA 0.03%", "foz/foz + DCA 0.1%"], "range": ["#c9c9c9", "#7c6ba7", "#b3abd5"]}, "legend": null}}},
         {"data": {"name": "F_bar"}, "mark": {"type": "rule", "color": "#505050", "strokeWidth": 1.2},
          "encoding": {
           "x": {"field": "group", "type": "nominal", "scale": {"domain": ["foz/foz", "foz/foz + DCA 0.03%", "foz/foz + DCA 0.1%"]}},
           "y": {"field": "mean", "type": "quantitative", "scale": {"domain": [0, 80000], "nice": false}}, "y2": {"field": "hi"}}},
         {"data": {"name": "F_bar"}, "mark": {"type": "tick", "color": "#505050", "size": 8, "thickness": 1.2},
          "encoding": {
           "x": {"field": "group", "type": "nominal", "scale": {"domain": ["foz/foz", "foz/foz + DCA 0.03%", "foz/foz + DCA 0.1%"]}},
           "y": {"field": "hi", "type": "quantitative", "scale": {"domain": [0, 80000], "nice": false}}}},
         {"data": {"name": "F_dot"}, "mark": {"type": "circle", "color": "black", "size": 34, "opacity": 1},
          "encoding": {
           "x": {"field": "group", "type": "nominal", "scale": {"domain": ["foz/foz", "foz/foz + DCA 0.03%", "foz/foz + DCA 0.1%"]}},
           "xOffset": {"field": "rep", "type": "ordinal", "scale": {"domain": [1, 2, 3, 4, 5, 6, 7], "paddingOuter": 0.3}},
           "y": {"field": "value", "type": "quantitative", "scale": {"domain": [0, 80000], "nice": false}}}},
         {"data": {"name": "F_sig"}, "mark": {"type": "text", "fontSize": 10, "color": "#222222"},
          "encoding": {
           "x": {"field": "group", "type": "nominal", "scale": {"domain": ["foz/foz", "foz/foz + DCA 0.03%", "foz/foz + DCA 0.1%"]}},
           "y": {"field": "y", "type": "quantitative", "scale": {"domain": [0, 80000], "nice": false}},
           "text": {"field": "label"}}}
        ]
       }
      ]
     },
     {
      "title": {"text": "G", "fontSize": 17, "fontWeight": "bold", "anchor": "start", "frame": "bounds", "offset": -5, "dx": -22, "color": "black"},
      "resolve": {"scale": {"color": "independent", "xOffset": "independent"}, "legend": {"color": "independent"}},
      "vconcat": [
       {
        "title": {"text": "TGR5 activation reporter assay", "offset": 2},
        "width": 243, "height": 160,
        "layer": [
         {"data": {"name": "G_bar"}, "mark": {"type": "bar", "stroke": "#505050", "strokeWidth": 1},
          "encoding": {
           "x": {"field": "group", "type": "nominal", "scale": {"domain": ["CTL", "TLCA", "foz/foz", "foz/foz + DCA 0.03%", "foz/foz + DCA 0.1%"], "paddingInner": 0.38, "paddingOuter": 0.39, "align": 0.55}, "axis": {"title": null, "labelPadding": 3, "labelFontSize": 9.5, "encode": {"labels": {"update": {"angle": {"signal": "datum.value === 'CTL' ? 0 : -45"}, "align": {"signal": "datum.value === 'CTL' ? 'center' : 'right'"}, "baseline": {"value": "top"}}}}}},
           "y": {"field": "mean", "type": "quantitative", "scale": {"domain": [0, 25], "nice": false}, "axis": {"values": [0, 5, 10, 15, 20, 25], "tickCount": 12, "labelOverlap": false, "title": "Relative luciferase activity", "titlePadding": 7, "minExtent": 15, "maxExtent": 15}},
           "color": {"field": "group", "type": "nominal", "scale": {"domain": ["CTL", "TLCA", "foz/foz", "foz/foz + DCA 0.03%", "foz/foz + DCA 0.1%"], "range": ["#5cb05f", "#5cb05f", "#c9c9c9", "#7c6ba7", "#b3abd5"]}, "legend": null}}},
         {"data": {"name": "G_bar"}, "mark": {"type": "rule", "color": "#505050", "strokeWidth": 1.2},
          "encoding": {
           "x": {"field": "group", "type": "nominal", "scale": {"domain": ["CTL", "TLCA", "foz/foz", "foz/foz + DCA 0.03%", "foz/foz + DCA 0.1%"]}},
           "y": {"field": "mean", "type": "quantitative", "scale": {"domain": [0, 25], "nice": false}}, "y2": {"field": "hi"}}},
         {"data": {"name": "G_bar"}, "mark": {"type": "tick", "color": "#505050", "size": 8, "thickness": 1.2},
          "encoding": {
           "x": {"field": "group", "type": "nominal", "scale": {"domain": ["CTL", "TLCA", "foz/foz", "foz/foz + DCA 0.03%", "foz/foz + DCA 0.1%"]}},
           "y": {"field": "hi", "type": "quantitative", "scale": {"domain": [0, 25], "nice": false}}}},
         {"data": {"name": "G_dot"}, "mark": {"type": "circle", "color": "black", "size": 40, "opacity": 1},
          "encoding": {
           "x": {"field": "group", "type": "nominal", "scale": {"domain": ["CTL", "TLCA", "foz/foz", "foz/foz + DCA 0.03%", "foz/foz + DCA 0.1%"]}},
           "xOffset": {"field": "rep", "type": "ordinal", "scale": {"domain": [1, 2, 3, 4, 5, 6, 7], "paddingOuter": 0.2}},
           "y": {"field": "value", "type": "quantitative", "scale": {"domain": [0, 25], "nice": false}}}},
         {"data": {"name": "G_cmp"}, "mark": {"type": "rule", "color": "#aaaaaa", "strokeWidth": 1},
          "encoding": {
           "x": {"field": "g1", "type": "nominal", "scale": {"domain": ["CTL", "TLCA", "foz/foz", "foz/foz + DCA 0.03%", "foz/foz + DCA 0.1%"]}},
           "x2": {"field": "g2"},
           "y": {"field": "y", "type": "quantitative", "scale": {"domain": [0, 25], "nice": false}}}},
         {"data": {"name": "G_cmp"}, "transform": [{"filter": "datum.g1 !== 'foz/foz' || datum.g2 !== 'foz/foz + DCA 0.1%'"}], "mark": {"type": "text", "fontSize": 10, "color": "#222222", "baseline": "bottom", "dx": 22.5, "dy": 1},
          "encoding": {
           "x": {"field": "g1", "type": "nominal", "scale": {"domain": ["CTL", "TLCA", "foz/foz", "foz/foz + DCA 0.03%", "foz/foz + DCA 0.1%"]}},
           "y": {"field": "y", "type": "quantitative", "scale": {"domain": [0, 25], "nice": false}},
           "text": {"field": "label"}}},
         {"data": {"name": "G_cmp"}, "transform": [{"filter": "datum.g1 === 'foz/foz' && datum.g2 === 'foz/foz + DCA 0.1%'"}], "mark": {"type": "text", "fontSize": 10, "color": "#222222", "baseline": "bottom", "dx": 45, "dy": 1},
          "encoding": {
           "x": {"field": "g1", "type": "nominal", "scale": {"domain": ["CTL", "TLCA", "foz/foz", "foz/foz + DCA 0.03%", "foz/foz + DCA 0.1%"]}},
           "y": {"field": "y", "type": "quantitative", "scale": {"domain": [0, 25], "nice": false}},
           "text": {"field": "label"}}}
        ]
       }
      ]
     }
    ]
   }
  ]
 }
]
}
